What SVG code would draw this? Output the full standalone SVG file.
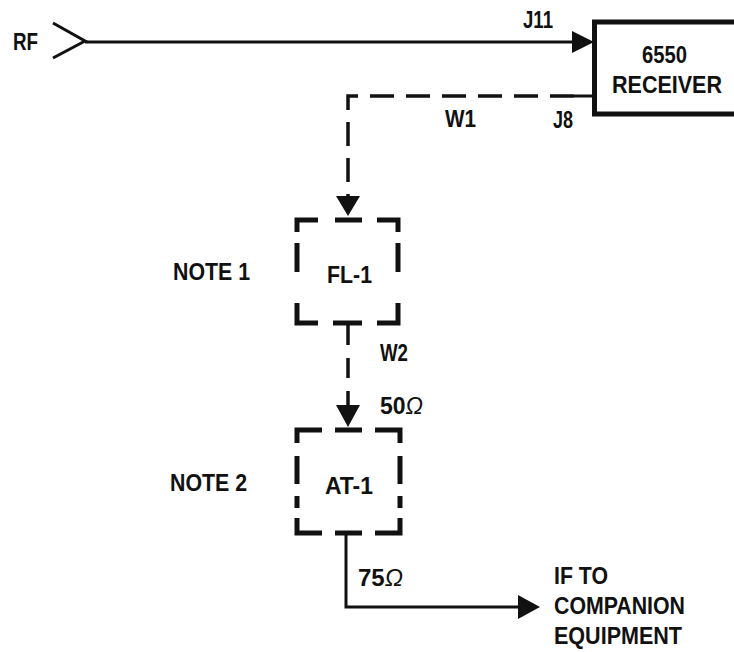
<svg xmlns="http://www.w3.org/2000/svg" width="734" height="652" viewBox="0 0 734 652">
<style>
.t{font-family:"Liberation Sans",Arial,sans-serif;font-weight:bold;font-size:24px;fill:#111}
.solid{stroke:#111;stroke-width:3;fill:none}
.dash{stroke:#111;stroke-width:3.5;fill:none}
.box{stroke:#111;stroke-width:5;fill:none;stroke-linecap:butt;stroke-linejoin:miter}
.ah{fill:#111}
</style>
<rect width="734" height="652" fill="#fff"/>
<g id="connectors">
  <path class="solid" d="M53,23 L85,41 L53,58"/>
  <path class="solid" d="M85,42 L574,42"/>
  <polygon class="ah" points="572,31 594,42 572,53"/>
  <path class="solid" d="M574,96 L592,96"/>
  <path class="dash" d="M574,96 L348,96 L348,197" style="stroke-dasharray:24 12"/>
  <polygon class="ah" points="336,196 360,196 348,216"/>
  <path class="dash" d="M348,325 L348,407" style="stroke-dasharray:20 13"/>
  <polygon class="ah" points="336,405 360,405 348,427"/>
  <path class="solid" d="M346,535 L346,607 L520,607"/>
  <polygon class="ah" points="518,595 540,607 518,619"/>
</g>
<g id="rf">
  <text class="t" x="13" y="50" textLength="25" lengthAdjust="spacingAndGlyphs">RF</text>
</g>
<g id="labels">
  <text class="t" x="523" y="28" textLength="30" lengthAdjust="spacingAndGlyphs">J11</text>
  <text class="t" x="445" y="127" textLength="31" lengthAdjust="spacingAndGlyphs">W1</text>
  <text class="t" x="553" y="128" textLength="20" lengthAdjust="spacingAndGlyphs">J8</text>
  <text class="t" x="380" y="361" textLength="28" lengthAdjust="spacingAndGlyphs">W2</text>
  <text class="t" x="380" y="414" textLength="43" lengthAdjust="spacingAndGlyphs">50<tspan font-style="italic" font-weight="normal">Ω</tspan></text>
  <text class="t" x="358" y="586" textLength="45" lengthAdjust="spacingAndGlyphs">75<tspan font-style="italic" font-weight="normal">Ω</tspan></text>
  <text class="t" x="173" y="280" textLength="77" lengthAdjust="spacingAndGlyphs">NOTE 1</text>
  <text class="t" x="170" y="491" textLength="77" lengthAdjust="spacingAndGlyphs">NOTE 2</text>
  <text class="t" x="554" y="584" textLength="54" lengthAdjust="spacingAndGlyphs">IF TO</text>
  <text class="t" x="554" y="614" textLength="131" lengthAdjust="spacingAndGlyphs">COMPANION</text>
  <text class="t" x="554" y="644" textLength="128" lengthAdjust="spacingAndGlyphs">EQUIPMENT</text>
</g>
<g id="receiver">
  <rect x="594.5" y="22" width="150" height="92" fill="none" stroke="#111" stroke-width="5"/>
  <text class="t" x="642" y="63" textLength="45" lengthAdjust="spacingAndGlyphs">6550</text>
  <text class="t" x="612" y="93" textLength="110" lengthAdjust="spacingAndGlyphs">RECEIVER</text>
</g>
<g id="fl1">
  <path class="box" d="M297,232 L297,220 L318,220 M335,220 L362,220 M377,220 L398,220 L398,232 M297,243 L297,272 M398,243 L398,272 M297,303 L297,323 L318,323 M333,323 L362,323 M377,323 L398,323 L398,303"/>
  <text class="t" x="327" y="283" textLength="45" lengthAdjust="spacingAndGlyphs">FL-1</text>
</g>
<g id="at1">
  <path class="box" d="M297,443 L297,430 L322,430 M335,430 L362,430 M375,430 L400,430 L400,443 M297,456 L297,484 M400,456 L400,484 M297,496 L297,508 M400,496 L400,508 M297,518 L297,533 L322,533 M335,533 L362,533 M375,533 L400,533 L400,518"/>
  <text class="t" x="325" y="494" textLength="48" lengthAdjust="spacingAndGlyphs">AT-1</text>
</g>
</svg>
